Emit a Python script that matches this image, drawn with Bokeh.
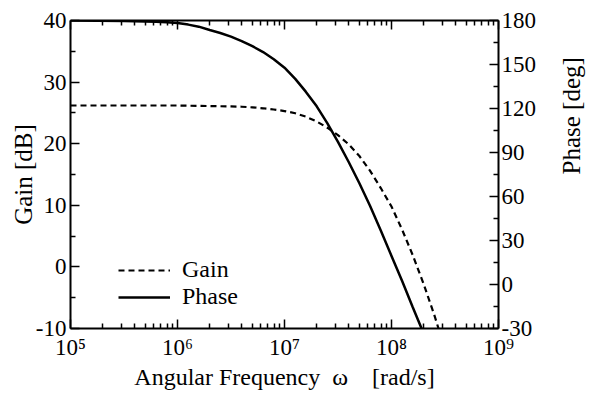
import math
from bokeh.plotting import figure
from bokeh.models import (Range1d, LinearAxis, LogAxis, FixedTicker, CustomJSTickFormatter,
                          Legend, LegendItem)
from bokeh.embed import file_html
from bokeh.resources import INLINE

# ---- data ----
gain_omega = [1.0e5, 1.0e6, 3.16e6, 3.98e6, 5.01e6, 6.31e6, 7.94e6, 1.0e7, 1.26e7,
              1.58e7, 2.0e7, 2.51e7, 3.16e7, 3.98e7, 5.01e7, 6.31e7, 7.94e7, 1.0e8,
              1.26e8, 1.58e8, 2.0e8, 2.51e8, 2.75e8]
gain_db = [26.2, 26.2, 26.05, 26.0, 25.9, 25.75, 25.55, 25.3, 24.95,
           24.4, 23.6, 22.6, 21.4, 19.9, 18.0, 15.6, 12.8, 9.8,
           6.0, 1.9, -2.8, -7.8, -10.0]

phase_omega = [1.0e5, 3.16e5, 6.31e5, 7.94e5, 1.0e6, 1.26e6, 1.58e6, 2.0e6, 2.51e6,
               3.16e6, 3.98e6, 5.01e6, 6.31e6, 7.94e6, 1.0e7, 1.26e7, 1.58e7, 2.0e7,
               2.51e7, 3.16e7, 3.98e7, 5.01e7, 6.31e7, 7.94e7, 1.0e8, 1.26e8, 1.58e8,
               1.91e8]
phase_deg = [180.0, 179.7, 179.2, 178.8, 178.3, 177.2, 175.8, 173.5, 171.5,
             169.0, 166.0, 162.5, 158.5, 153.6, 147.8, 140.2, 131.5, 121.5,
             110.0, 97.2, 83.5, 69.0, 53.5, 36.8, 19.5, 2.2, -15.5,
             -30.0]

x_major = [1e5, 1e6, 1e7, 1e8, 1e9]
x_minor = [m * d for d in (1e5, 1e6, 1e7, 1e8) for m in range(2, 10)]
gain_ticks = [-10, 0, 10, 20, 30, 40]
gain_minor = [-5, 5, 15, 25, 35]
phase_ticks = [-30, 0, 30, 60, 90, 120, 150, 180]
phase_minor = [-15, 15, 45, 75, 105, 135, 165]

FONT = "Liberation Serif"

p = figure(width=601, height=394, x_axis_type="log",
           x_range=Range1d(1e5, 1e9), y_range=Range1d(-10, 40),
           output_backend="svg", toolbar_location=None,
           min_border_left=70, min_border_right=101,
           min_border_top=20, min_border_bottom=66)
p.background_fill_color = "white"
p.border_fill_color = "white"
p.outline_line_color = None
p.xgrid.visible = False
p.ygrid.visible = False
p.extra_y_ranges = {"phase": Range1d(-30, 180)}

r_gain = p.line(gain_omega, gain_db, line_color="black", line_width=2.2, line_dash="6 4")
r_phase = p.line(phase_omega, phase_deg, line_color="black", line_width=2.5,
                 y_range_name="phase")

sup = CustomJSTickFormatter(code="""
const s = {"0":"\u2070","1":"\u00b9","2":"\u00b2","3":"\u00b3","4":"\u2074","5":"\u2075",
           "6":"\u2076","7":"\u2077","8":"\u2078","9":"\u2079"};
const e = Math.round(Math.log10(tick)).toString();
let out = "10";
for (const c of e) out += s[c];
return out;
""")

def style(ax, label_size="23px", axis_label_size="24px"):
    ax.axis_line_width = 2
    ax.axis_line_color = "black"
    ax.major_tick_in = 9
    ax.major_tick_out = 0
    ax.minor_tick_in = 5
    ax.minor_tick_out = 0
    ax.major_tick_line_width = 1.5
    ax.minor_tick_line_width = 1.5
    ax.major_label_text_font = FONT
    ax.major_label_text_font_size = label_size
    ax.major_label_text_color = "black"
    ax.axis_label_text_font = FONT
    ax.axis_label_text_font_size = axis_label_size
    ax.axis_label_text_font_style = "normal"
    ax.axis_label_text_color = "black"

# bottom x axis
xa = p.xaxis[0]
style(xa)
xa.ticker = FixedTicker(ticks=x_major, minor_ticks=x_minor)
xa.formatter = sup
xa.major_label_standoff = 6
xa.axis_label = "Angular Frequency\u00a0\u00a0\u03c9\u00a0\u00a0\u00a0\u00a0[rad/s]"
xa.axis_label_standoff = 1

# left gain axis
ya = p.yaxis[0]
style(ya, axis_label_size="25px")
ya.ticker = FixedTicker(ticks=gain_ticks, minor_ticks=gain_minor)
ya.major_label_overrides = {t: str(t) for t in gain_ticks}
ya.major_label_standoff = 4
ya.axis_label = "Gain [dB]"
ya.axis_label_standoff = -4

# right phase axis
ra = LinearAxis(y_range_name="phase")
style(ra, axis_label_size="25px")
ra.ticker = FixedTicker(ticks=phase_ticks, minor_ticks=phase_minor)
ra.major_label_overrides = {t: str(t) for t in phase_ticks}
ra.major_label_standoff = 3
ra.axis_label = "Phase [deg]"
ra.axis_label_standoff = 32
ra.axis_label_orientation = math.pi / 2
p.add_layout(ra, "right")

# top axis (ticks only)
ta = LogAxis()
style(ta, label_size="1px")
ta.ticker = FixedTicker(ticks=x_major, minor_ticks=x_minor)
ta.major_label_text_alpha = 0
ta.major_label_standoff = 0
p.add_layout(ta, "above")

legend = Legend(items=[LegendItem(label="Gain", renderers=[r_gain]),
                       LegendItem(label="Phase", renderers=[r_phase])],
                location=(48, 18))
legend.glyph_width = 52
legend.glyph_height = 26
legend.label_height = 26
legend.spacing = 0
legend.padding = 0
legend.margin = 0
legend.label_standoff = 12
legend.border_line_color = None
legend.background_fill_alpha = 0
legend.label_text_font = FONT
legend.label_text_font_size = "24px"
legend.label_text_color = "black"
p.add_layout(legend, "center")

open("out.html", "w").write(file_html(p, INLINE))
